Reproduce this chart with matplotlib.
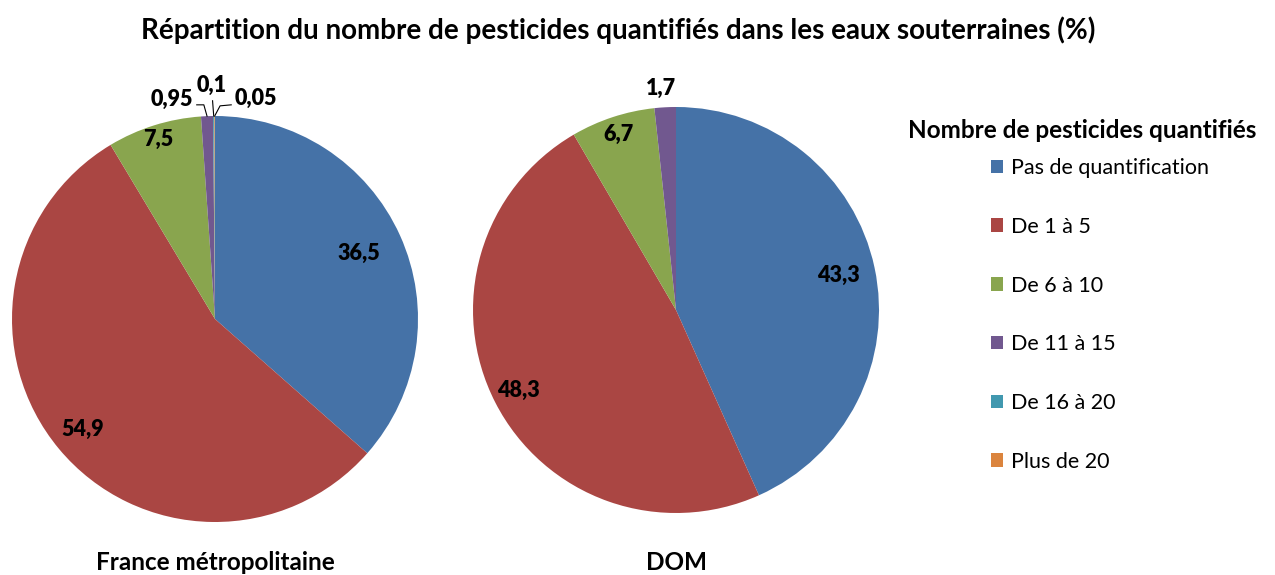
import numpy as np
import matplotlib.pyplot as plt

plt.rcParams['font.family'] = ['Lato', 'DejaVu Sans']

# Données (%)
categories = ['Pas de quantification', 'De 1 à 5', 'De 6 à 10', 'De 11 à 15',
              'De 16 à 20', 'Plus de 20']
france_values = [36.5, 54.9, 7.5, 0.95, 0.1, 0.05]
france_labels = ['36,5', '54,9', '7,5', '0,95', '0,1', '0,05']
dom_values = [43.3, 48.3, 6.7, 1.7, 0, 0]
dom_labels = ['43,3', '48,3', '6,7', '1,7', '', '']
colors = ['#4572A7', '#AA4643', '#89A54E', '#71588F', '#4198AF', '#DB843D']

W, H = 1275, 575
LBL = 15.5
fig = plt.figure(figsize=(W / 100, H / 100), dpi=100)


def pie_axes(cx, cy, r):
    return fig.add_axes([(cx - r) / W, 1 - (cy + r) / H, 2 * r / W, 2 * r / H])


def draw_pie(ax, values, labels, label_pos):
    wedges, _ = ax.pie(values, colors=colors, startangle=90, counterclock=False,
                       radius=1, wedgeprops=dict(linewidth=0))
    ax.set_xlim(-1, 1)
    ax.set_ylim(-1, 1)
    for w, lab, pos in zip(wedges, labels, label_pos):
        if not lab:
            continue
        mid = np.deg2rad((w.theta1 + w.theta2) / 2)
        edge = (np.cos(mid), np.sin(mid))
        if pos[0] == 'in':
            r = pos[1]
            ax.text(r * np.cos(mid), r * np.sin(mid), lab, ha='center', va='center',
                    fontsize=LBL, fontweight='heavy')
        elif pos[0] == 'out':
            ax.text(pos[1], pos[2], lab, ha='center', va='center',
                    fontsize=LBL, fontweight='heavy')
        else:
            # étiquette avec ligne de rappel
            tx, ty, kx, ky = pos[1:]
            ax.text(tx, ty, lab, ha='center', va='center', fontsize=LBL,
                    fontweight='heavy')
            ax.plot([kx[0], kx[1], edge[0]], [ky[0], ky[1], edge[1]],
                    color='black', lw=0.8, clip_on=False)
    return wedges


ax1 = pie_axes(215, 319, 203)
france_pos = [('in', 0.78), ('in', 0.85), ('in', 0.93),
              ('lead', -0.21, 1.08, (-0.09, -0.055), (1.055, 1.055)),
              ('lead', -0.015, 1.15, (-0.012, -0.012), (1.075, 1.075)),
              ('lead', 0.20, 1.085, (0.08, 0.025), (1.055, 1.05))]
wedges = draw_pie(ax1, france_values, france_labels, france_pos)
ax1.text(0, -1.2, 'France métropolitaine', ha='center', va='center',
         fontsize=17.5, fontweight='bold')

ax2 = pie_axes(676, 310, 203)
dom_pos = [('in', 0.82), ('in', 0.87), ('in', 0.91),
           ('out', -0.075, 1.09), None, None]
draw_pie(ax2, dom_values, dom_labels, dom_pos)
ax2.text(0, -1.245, 'DOM', ha='center', va='center', fontsize=17.5, fontweight='bold')

fig.text(618 / W, 1 - 30 / H,
         'Répartition du nombre de pesticides quantifiés dans les eaux souterraines (%)',
         ha='center', va='center', fontsize=20, fontweight='bold')

fig.text(1082 / W, 1 - 131 / H, 'Nombre de pesticides quantifiés',
         ha='center', va='center', fontsize=17.5, fontweight='bold')
leg = fig.legend(wedges, categories, loc='upper left',
                 bbox_to_anchor=(991 / W, 1 - 158 / H), frameon=False,
                 fontsize=15.5, labelspacing=1.8, handlelength=0.58, handleheight=0.58,
                 handletextpad=0.35, borderpad=0, borderaxespad=0)

fig.savefig('out.png', dpi=100)
